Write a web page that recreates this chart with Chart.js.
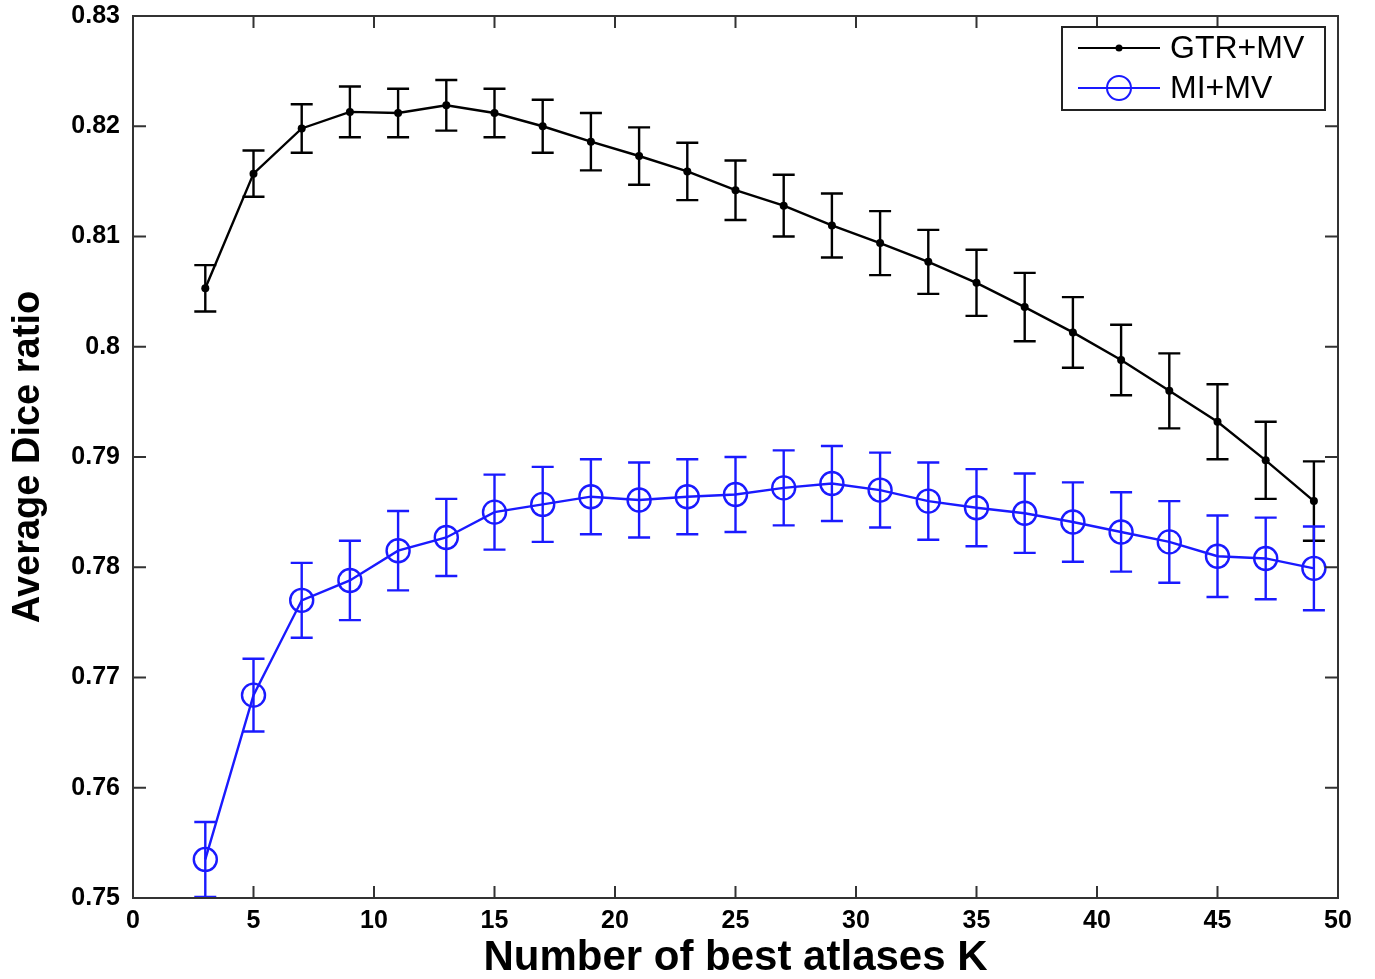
<!DOCTYPE html>
<html>
<head>
<meta charset="utf-8">
<script src="https://cdn.jsdelivr.net/npm/chart.js@4.4.1/dist/chart.umd.min.js"></script>
<style>
  html, body { margin: 0; padding: 0; background: #fff; }
  #wrap { width: 1375px; height: 979px; }
</style>
</head>
<body>
<div id="wrap"><canvas id="diceChart" width="1375" height="979"></canvas></div>
<script>
// values
const kValues = [3, 5, 7, 9, 11, 13, 15, 17, 19, 21, 23, 25, 27, 29, 31, 33, 35, 37, 39, 41, 43, 45, 47, 49];
const gtrMean = [0.8053, 0.8157, 0.8198, 0.8213, 0.8212, 0.8219, 0.8212, 0.8200, 0.8186, 0.8173, 0.8159, 0.8142,
                 0.8128, 0.8110, 0.8094, 0.8077, 0.8058, 0.8036, 0.8013, 0.7988, 0.7960, 0.7932, 0.7897, 0.7860];
const gtrErr  = [0.0021, 0.0021, 0.0022, 0.0023, 0.0022, 0.0023, 0.0022, 0.0024, 0.0026, 0.0026, 0.0026, 0.0027,
                 0.0028, 0.0029, 0.0029, 0.0029, 0.0030, 0.0031, 0.0032, 0.0032, 0.0034, 0.0034, 0.0035, 0.0036];
const miMean  = [0.7535, 0.7684, 0.7770, 0.7788, 0.7815, 0.7827, 0.7850, 0.7857, 0.7864, 0.7861, 0.7864, 0.7866,
                 0.7872, 0.7876, 0.7870, 0.7860, 0.7854, 0.7849, 0.7841, 0.7832, 0.7823, 0.7810, 0.7808, 0.7799];
const miErr   = [0.0034, 0.0033, 0.0034, 0.0036, 0.0036, 0.0035, 0.0034, 0.0034, 0.0034, 0.0034, 0.0034, 0.0034,
                 0.0034, 0.0034, 0.0034, 0.0035, 0.0035, 0.0036, 0.0036, 0.0036, 0.0037, 0.0037, 0.0037, 0.0038];

const xTicks = [0, 5, 10, 15, 20, 25, 30, 35, 40, 45, 50];
const yTicks = [0.75, 0.76, 0.77, 0.78, 0.79, 0.8, 0.81, 0.82, 0.83];
const yTickLabels = ['0.75', '0.76', '0.77', '0.78', '0.79', '0.8', '0.81', '0.82', '0.83'];

const seriesNames = ['GTR+MV', 'MI+MV'];
const errArrays = [gtrErr, miErr];
const BLUE = '#1a1aff';

const FONT = '"Liberation Sans", Arial, Helvetica, sans-serif';

function toPoints(means) {
    return kValues.map((k, i) => ({ x: k, y: means[i] }));
}

// error bars, drawn through the scales
const errorBars = {
    id: 'errorBars',
    afterDatasetsDraw(chart) {
        const ctx = chart.ctx;
        const xs = chart.scales.x, ys = chart.scales.y;
        const area = chart.chartArea;
        ctx.save();
        ctx.beginPath();
        ctx.rect(area.left, area.top - 1, area.right - area.left, area.bottom - area.top + 2);
        ctx.clip();
        chart.data.datasets.forEach((ds, di) => {
            const errs = errArrays[di];
            ctx.strokeStyle = ds.borderColor;
            ctx.lineWidth = 2.4;
            ds.data.forEach((p, i) => {
                const px = xs.getPixelForValue(p.x);
                const top = ys.getPixelForValue(p.y + errs[i]);
                const bot = ys.getPixelForValue(p.y - errs[i]);
                const cap = 11;
                ctx.beginPath();
                ctx.moveTo(px, top); ctx.lineTo(px, bot);
                ctx.moveTo(px - cap, top); ctx.lineTo(px + cap, top);
                ctx.moveTo(px - cap, bot); ctx.lineTo(px + cap, bot);
                ctx.stroke();
            });
        });
        ctx.restore();
    }
};

// MATLAB style box, inward ticks and legend
const frame = {
    id: 'frame',
    afterDraw(chart) {
        const ctx = chart.ctx;
        const a = chart.chartArea;
        const xs = chart.scales.x, ys = chart.scales.y;
        ctx.save();
        ctx.strokeStyle = '#333';
        ctx.lineWidth = 2;
        ctx.strokeRect(a.left, a.top, a.right - a.left, a.bottom - a.top);
        ctx.beginPath();
        xTicks.forEach(v => {
            const px = xs.getPixelForValue(v);
            ctx.moveTo(px, a.bottom); ctx.lineTo(px, a.bottom - 12);
            ctx.moveTo(px, a.top); ctx.lineTo(px, a.top + 12);
        });
        yTicks.forEach(v => {
            const py = ys.getPixelForValue(v);
            ctx.moveTo(a.left, py); ctx.lineTo(a.left + 13, py);
            ctx.moveTo(a.right, py); ctx.lineTo(a.right - 13, py);
        });
        ctx.stroke();

        // legend
        const lx = 1062, ly = 27, lw = 263, lh = 83;
        ctx.fillStyle = '#fff';
        ctx.fillRect(lx, ly, lw, lh);
        ctx.strokeStyle = '#222';
        ctx.lineWidth = 2;
        ctx.strokeRect(lx, ly, lw, lh);
        const rows = [48, 88];
        chart.data.datasets.forEach((ds, i) => {
            const y = rows[i];
            ctx.strokeStyle = ds.borderColor;
            ctx.lineWidth = 2;
            ctx.beginPath();
            ctx.moveTo(1078, y); ctx.lineTo(1160, y);
            ctx.stroke();
            ctx.beginPath();
            if (i === 0) {
                ctx.fillStyle = ds.borderColor;
                ctx.arc(1119, y, 3.5, 0, Math.PI * 2);
                ctx.fill();
            } else {
                ctx.arc(1119, y, 12, 0, Math.PI * 2);
                ctx.stroke();
            }
            ctx.fillStyle = '#000';
            ctx.font = '32px ' + FONT;
            ctx.textAlign = 'left';
            ctx.textBaseline = 'middle';
            ctx.fillText(ds.label, 1170, y + 1);
        });
        ctx.restore();
    }
};

new Chart(document.getElementById('diceChart').getContext('2d'), {
    type: 'line',
    data: {
        datasets: [{
            label: seriesNames[0],
            data: toPoints(gtrMean),
            borderColor: '#000',
            backgroundColor: '#000',
            borderWidth: 2.4,
            pointRadius: 4,
            pointBorderWidth: 0,
            tension: 0
        }, {
            label: seriesNames[1],
            data: toPoints(miMean),
            borderColor: BLUE,
            backgroundColor: 'rgba(0,0,0,0)',
            borderWidth: 2.4,
            pointRadius: 11.5,
            pointBorderWidth: 2.4,
            tension: 0
        }]
    },
    options: {
        responsive: false,
        animation: false,
        events: [],
        layout: { padding: { left: 0, top: 16, right: 37, bottom: 0 } },
        plugins: {
            legend: { display: false },
            tooltip: { enabled: false }
        },
        scales: {
            x: {
                type: 'linear',
                min: 0,
                max: 50,
                afterBuildTicks: s => { s.ticks = xTicks.map(v => ({ value: v })); },
                afterFit: s => { s.height = 81; s.paddingLeft = 0; s.paddingRight = 0; },
                grid: { display: false, drawTicks: false, tickLength: 0 },
                border: { display: false },
                ticks: {
                    color: '#000',
                    padding: 8,
                    maxRotation: 0,
                    font: { family: FONT, size: 25, weight: 'bold', lineHeight: 1.2 }
                },
                title: {
                    display: true,
                    text: 'Number of best atlases K',
                    color: '#000',
                    padding: { top: 0, bottom: 0 },
                    font: { family: FONT, size: 42, weight: 'bold', lineHeight: 1.0 }
                }
            },
            y: {
                type: 'linear',
                min: 0.75,
                max: 0.83,
                afterBuildTicks: s => { s.ticks = yTicks.map(v => ({ value: v })); },
                afterFit: s => { s.width = 133; s.paddingTop = 0; s.paddingBottom = 0; },
                grid: { display: false, drawTicks: false, tickLength: 0 },
                border: { display: false },
                ticks: {
                    color: '#000',
                    padding: 13,
                    font: { family: FONT, size: 25, weight: 'bold' },
                    callback: (v) => yTickLabels[yTicks.indexOf(v)]
                },
                title: {
                    display: true,
                    text: 'Average Dice ratio',
                    color: '#000',
                    padding: { top: 6, bottom: 0 },
                    font: { family: FONT, size: 38, weight: 'bold', lineHeight: 1.2 }
                }
            }
        }
    },
    plugins: [errorBars, frame]
});
</script>
</body>
</html>
